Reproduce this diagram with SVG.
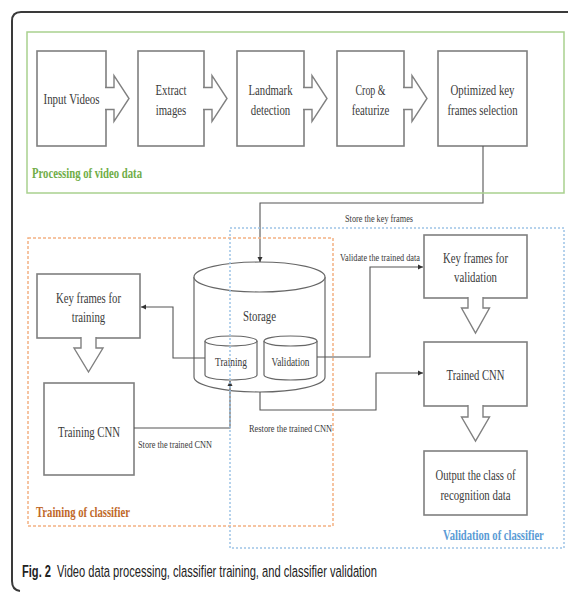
<svg xmlns="http://www.w3.org/2000/svg" width="568" height="592" viewBox="0 0 568 592">
<defs>
<marker id="ah" markerUnits="userSpaceOnUse" markerWidth="6" markerHeight="6" refX="5" refY="3" orient="auto">
<path d="M0,0.5 L5,3 L0,5.5 z" fill="#333"/>
</marker>
<style>
.box{fill:#fff;stroke:#7f7f7f;stroke-width:1.6}
.arr{fill:#fff;stroke:#808080;stroke-width:1.4;stroke-linejoin:miter}
.cyl{fill:#fff;stroke:#666;stroke-width:1.2}
.t{font-family:"Liberation Serif","Times New Roman",serif;font-size:14px;fill:#3a3a3a;text-anchor:middle}
.ts{font-family:"Liberation Serif","Times New Roman",serif;font-size:12px;fill:#3a3a3a;text-anchor:middle}
.lbl{font-family:"Liberation Serif","Times New Roman",serif;font-size:11px;fill:#3a3a3a;text-anchor:middle}
.grp{font-family:"Liberation Serif","Times New Roman",serif;font-size:14px;font-weight:bold}
.con{fill:none;stroke:#555;stroke-width:1.1}
.cap{font-family:"Liberation Sans",Arial,sans-serif;font-size:17px;fill:#222}
</style>
</defs>
<rect width="568" height="592" fill="#fff"/>
<path d="M568,12 H21 Q12,12 12,21 V581 Q12,590 20,591" fill="none" stroke="#3a3a3a" stroke-width="2"/>

<g id="input-videos">
<rect class="box" x="37" y="51" width="69" height="95"/>
<path class="arr" d="M105,87.5 H114 V75.5 L129,98.5 L114,121.5 V109.5 H105"/>
<text class="t" x="71.5" y="104" textLength="56" lengthAdjust="spacingAndGlyphs">Input Videos</text>
</g>
<g id="extract-images">
<rect class="box" x="138" y="51" width="66" height="95"/>
<path class="arr" d="M203,87.5 H212 V75.5 L227,98.5 L212,121.5 V109.5 H203"/>
<text class="t" x="171" y="95" textLength="31" lengthAdjust="spacingAndGlyphs">Extract</text>
<text class="t" x="171" y="114.5" textLength="30.5" lengthAdjust="spacingAndGlyphs">images</text>
</g>
<g id="landmark-detection">
<rect class="box" x="237" y="51" width="67" height="95"/>
<path class="arr" d="M303,87.5 H312 V75.5 L327,98.5 L312,121.5 V109.5 H303"/>
<text class="t" x="270.5" y="95" textLength="44" lengthAdjust="spacingAndGlyphs">Landmark</text>
<text class="t" x="270.5" y="114.5" textLength="39.5" lengthAdjust="spacingAndGlyphs">detection</text>
</g>
<g id="crop-featurize">
<rect class="box" x="337" y="51" width="67" height="95"/>
<path class="arr" d="M403,87.5 H412 V75.5 L427,98.5 L412,121.5 V109.5 H403"/>
<text class="t" x="370.5" y="95" textLength="30" lengthAdjust="spacingAndGlyphs">Crop &amp;</text>
<text class="t" x="370.5" y="114.5" textLength="37.7" lengthAdjust="spacingAndGlyphs">featurize</text>
</g>
<g id="optimized-key-frames">
<rect class="box" x="438" y="51" width="89" height="95"/>
<text class="t" x="482.5" y="95" textLength="64" lengthAdjust="spacingAndGlyphs">Optimized key</text>
<text class="t" x="482.5" y="114.5" textLength="70" lengthAdjust="spacingAndGlyphs">frames selection</text>
</g>

<g id="storage">
<path class="cyl" d="M194,277 V377 A65.5,15 0 0 0 325,377 V277"/>
<ellipse class="cyl" cx="259.5" cy="277" rx="65.5" ry="15"/>
<text class="t" x="259.5" y="321" textLength="33" lengthAdjust="spacingAndGlyphs">Storage</text>
</g>
<g id="training-store">
<path class="cyl" d="M205,341 V375 A26,5 0 0 0 257,375 V341"/>
<ellipse class="cyl" cx="231" cy="341" rx="26" ry="5"/>
<text class="ts" x="231" y="366" textLength="32" lengthAdjust="spacingAndGlyphs">Training</text>
</g>
<g id="validation-store">
<path class="cyl" d="M264,341 V375 A26.5,5 0 0 0 317,375 V341"/>
<ellipse class="cyl" cx="290.5" cy="341" rx="26.5" ry="5"/>
<text class="ts" x="290.5" y="366" textLength="38" lengthAdjust="spacingAndGlyphs">Validation</text>
</g>

<g id="key-frames-training">
<rect class="box" x="37" y="274" width="103" height="64"/>
<path class="arr" d="M81,337 V348 H74 L88.5,372 L103,348 H96 V337"/>
<text class="t" x="88.5" y="303" textLength="65" lengthAdjust="spacingAndGlyphs">Key frames for</text>
<text class="t" x="88.5" y="322" textLength="33.5" lengthAdjust="spacingAndGlyphs">training</text>
</g>
<g id="training-cnn">
<rect class="box" x="44" y="383" width="90" height="92"/>
<text class="t" x="89" y="437" textLength="62" lengthAdjust="spacingAndGlyphs">Training CNN</text>
</g>

<g id="key-frames-validation">
<rect class="box" x="424" y="235" width="103" height="63"/>
<path class="arr" d="M468,297 V308 H461.5 L475.5,333 L489.5,308 H483 V297"/>
<text class="t" x="475.5" y="263" textLength="65" lengthAdjust="spacingAndGlyphs">Key frames for</text>
<text class="t" x="475.5" y="282" textLength="43" lengthAdjust="spacingAndGlyphs">validation</text>
</g>
<g id="trained-cnn">
<rect class="box" x="424" y="342" width="103" height="64"/>
<path class="arr" d="M468,405 V417 H461.5 L475.5,441 L489.5,417 H483 V405"/>
<text class="t" x="475.5" y="380" textLength="58" lengthAdjust="spacingAndGlyphs">Trained CNN</text>
</g>
<g id="output-class">
<rect class="box" x="424" y="451" width="103" height="64"/>
<text class="t" x="475.5" y="479.5" textLength="80" lengthAdjust="spacingAndGlyphs">Output the class of</text>
<text class="t" x="475.5" y="500" textLength="70" lengthAdjust="spacingAndGlyphs">recognition data</text>
</g>

<g id="connectors">
<path class="con" d="M483,146 V203 H260 V262" marker-end="url(#ah)"/>
<path class="con" d="M205,358 H173 V307 H141" marker-end="url(#ah)"/>
<path class="con" d="M317,357 H370 V267 H423" marker-end="url(#ah)"/>
<path class="con" d="M260,392 V410 H376 V373 H423" marker-end="url(#ah)"/>
<path class="con" d="M134,428 H230 V381" marker-end="url(#ah)"/>
<text class="lbl" x="379" y="222" textLength="68" lengthAdjust="spacingAndGlyphs">Store the key frames</text>
<text class="lbl" x="380" y="261" textLength="80" lengthAdjust="spacingAndGlyphs">Validate the trained data</text>
<text class="lbl" x="290.5" y="432" textLength="83" lengthAdjust="spacingAndGlyphs">Restore the trained CNN</text>
<text class="lbl" x="175" y="448" textLength="74" lengthAdjust="spacingAndGlyphs">Store the trained CNN</text>
</g>

<g id="group-processing">
<rect x="27" y="32" width="537" height="161" fill="none" stroke="#a9d18e" stroke-width="1.5"/>
<text class="grp" x="32" y="178" fill="#70ad47" textLength="110" lengthAdjust="spacingAndGlyphs">Processing of video data</text>
</g>
<g id="group-training">
<rect x="28" y="238" width="305" height="288" fill="none" stroke="#f4b183" stroke-width="1.5" stroke-dasharray="3 2"/>
<text class="grp" x="36" y="517" fill="#c0692a" textLength="94" lengthAdjust="spacingAndGlyphs">Training of classifier</text>
</g>
<g id="group-validation">
<rect x="230" y="228" width="334" height="320" fill="none" stroke="#9dc3e6" stroke-width="1.5" stroke-dasharray="2 2"/>
<text class="grp" transform="translate(443,540) scale(0.72,1)" x="0" y="0" fill="#5b9bd5" textLength="140" lengthAdjust="spacingAndGlyphs">Validation of classifier</text>
</g>

<text class="cap" transform="translate(22,577) scale(0.62,1)" x="0" y="0" font-weight="bold" textLength="46.8" lengthAdjust="spacingAndGlyphs">Fig. 2</text>
<text class="cap" transform="translate(57,577) scale(0.8,1)" x="0" y="0" textLength="400" lengthAdjust="spacingAndGlyphs">Video data processing, classifier training, and classifier validation</text>
</svg>
